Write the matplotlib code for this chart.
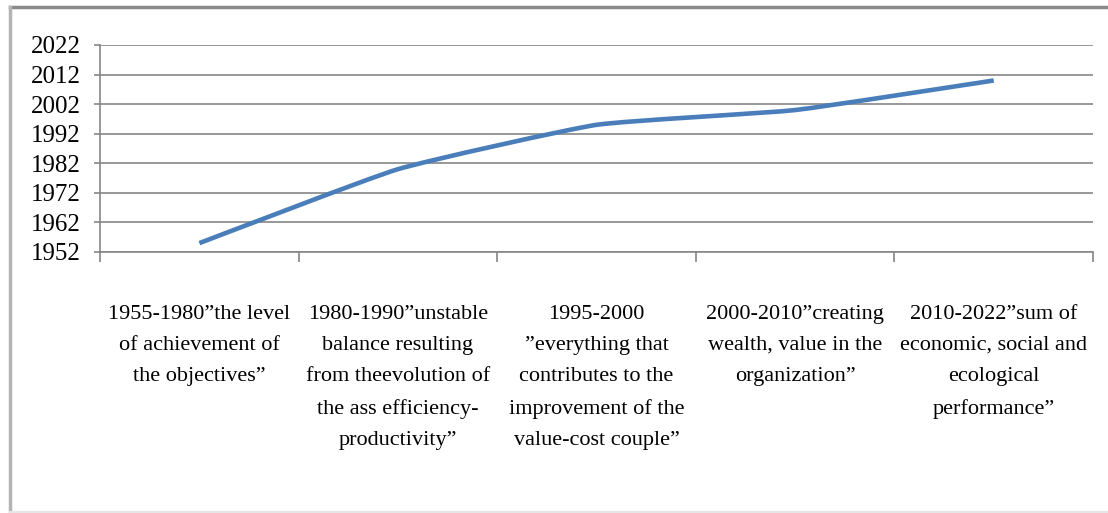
import numpy as np
import matplotlib.pyplot as plt
from matplotlib.path import Path
from matplotlib.patches import PathPatch
from matplotlib.lines import Line2D

# Periods and their start year
categories = [
    '1955-1980”the level\nof achievement of\nthe objectives”',
    '1980-1990”unstable\nbalance resulting\nfrom theevolution of\nthe ass efficiency-\nproductivity”',
    '1995-2000\n”everything that\ncontributes to the\nimprovement of the\nvalue-cost couple”',
    '2000-2010”creating\nwealth, value in the\norganization”',
    '2010-2022”sum of\neconomic, social and\necological\nperformance”',
]
years = [1955, 1980, 1995, 2000, 2010]
y_ticks = [1952, 1962, 1972, 1982, 1992, 2002, 2012, 2022]

plt.rcParams['font.family'] = ['Liberation Serif', 'DejaVu Serif']

fig = plt.figure(figsize=(11.08, 5.13), dpi=100)
ax = fig.add_axes([0.0903, 0.5088, 0.8962, 0.4035])

# lightly smoothed line (Excel style), cubic bezier through the data points
x = np.arange(len(years), dtype=float)
y = np.array(years, dtype=float)
pts = np.column_stack([x, y])
verts = [pts[0]]
codes = [Path.MOVETO]
for i in range(len(pts) - 1):
    p_prev = pts[i - 1] if i > 0 else pts[i]
    p_next = pts[i + 2] if i + 2 < len(pts) else pts[i + 1]
    c1 = pts[i] + (pts[i + 1] - p_prev) / 14
    c2 = pts[i + 1] - (p_next - pts[i]) / 14
    verts += [c1, c2, pts[i + 1]]
    codes += [Path.CURVE4] * 3
ax.add_patch(PathPatch(Path(verts, codes), facecolor='none', edgecolor='#4a7ebb',
                       linewidth=3.3, capstyle='butt', joinstyle='round', zorder=3))

ax.set_xlim(-0.5, len(years) - 0.5)
ax.set_ylim(y_ticks[0], y_ticks[-1])
ax.set_yticks(y_ticks)
ax.yaxis.grid(True, color='#868686', linewidth=1.2)
ax.set_axisbelow(True)

ax.set_xticks(x)
ax.set_xticklabels(categories, fontsize=16, linespacing=1.86)
ax.set_xticks(np.arange(-0.5, len(years)), minor=True)
ax.tick_params(axis='x', which='major', length=0, pad=38)
ax.tick_params(axis='x', which='minor', length=7, color='#868686', width=1.2)
ax.tick_params(axis='y', length=4, color='#868686', width=1.2, pad=10, labelsize=18)

for side in ['top', 'right']:
    ax.spines[side].set_visible(False)
for side in ['left', 'bottom']:
    ax.spines[side].set_color('#868686')
    ax.spines[side].set_linewidth(1.2)

# outer chart border
fig.add_artist(Line2D([10 / 1108, 1], [1 - 7 / 513, 1 - 7 / 513], transform=fig.transFigure,
                      color='#8a8a8a', linewidth=2.5))
fig.add_artist(Line2D([10 / 1108, 10 / 1108], [1 - 7 / 513, 1 / 513], transform=fig.transFigure,
                      color='#b4b4b4', linewidth=2.5))
fig.add_artist(Line2D([10 / 1108, 1], [1.5 / 513, 1.5 / 513], transform=fig.transFigure,
                      color='#e6e6e6', linewidth=1.5))

fig.savefig('out.png', dpi=100)
